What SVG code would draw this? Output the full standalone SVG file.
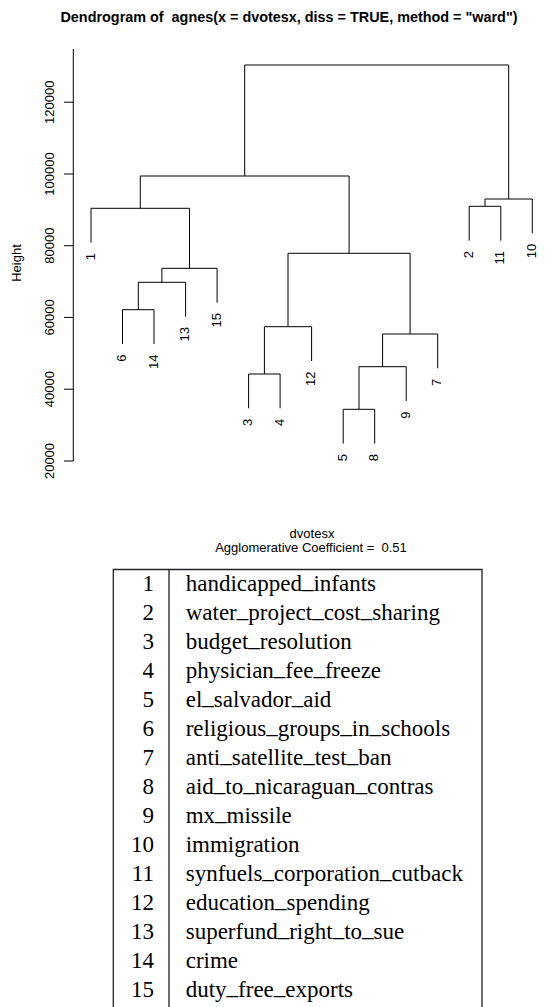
<svg xmlns="http://www.w3.org/2000/svg" width="560" height="1007" viewBox="0 0 560 1007">
<style>
.s{font-family:"Liberation Sans",Arial,sans-serif;fill:#000;white-space:pre}
.ax{font-size:13px}
.t{font-family:"Liberation Serif","Times New Roman",serif;font-size:23px;fill:#000}
.u{baseline-shift:3px}
.ln{fill:none;stroke:#000;stroke-width:1}
.lf{font-family:"Liberation Sans",Arial,sans-serif;font-size:13px;text-anchor:end}
</style>
<rect width="560" height="1007" fill="#fff"/>
<text class="s" x="289" y="21.7" font-size="14.4" font-weight="bold" text-anchor="middle" xml:space="preserve">Dendrogram of  agnes(x = dvotesx, diss = TRUE, method = "ward")</text>
<g id="axis">
<path class="ln" d="M73.3 49 V461 M64 461 H73.3 M64 389.2 H73.3 M64 317.4 H73.3 M64 245.7 H73.3 M64 174 H73.3 M64 102.2 H73.3"/>
<g class="s ax" text-anchor="middle">
<text transform="translate(53.5 461) rotate(-90)">20000</text>
<text transform="translate(53.5 389.2) rotate(-90)">40000</text>
<text transform="translate(53.5 317.4) rotate(-90)">60000</text>
<text transform="translate(53.5 245.7) rotate(-90)">80000</text>
<text transform="translate(53.5 174) rotate(-90)">100000</text>
<text transform="translate(53.5 102.2) rotate(-90)">120000</text>
<text transform="translate(20.5 263) rotate(-90)">Height</text>
</g>
</g>
<g id="connectors" class="ln">
<path d="M122.5 344 V309.7 H154 V344"/>
<path d="M138.3 309.7 V282.3 H185.6 V316.6"/>
<path d="M161.9 282.3 V268.3 H217.1 V302.6"/>
<path d="M91 242.6 V208.3 H189.5 V268.3"/>
<path d="M248.6 408.3 V374 H280.1 V408.3"/>
<path d="M264.4 374 V326.7 H311.6 V361"/>
<path d="M343.2 443.6 V409.3 H374.7 V443.6"/>
<path d="M359 409.3 V366.7 H406.2 V401"/>
<path d="M382.6 366.7 V334 H437.7 V368.3"/>
<path d="M288 326.7 V253.3 H410.1 V334"/>
<path d="M140.3 208.3 V176 H349.1 V253.3"/>
<path d="M469.2 240.6 V206.3 H500.8 V240.6"/>
<path d="M485 206.3 V199 H532.3 V233.3"/>
<path d="M244.7 176 V65 H508.7 V199"/>
</g>
<g id="leaf-1"><text class="lf" transform="translate(94.5 253.1) rotate(-90)">1</text></g>
<g id="leaf-6"><text class="lf" transform="translate(126 354.5) rotate(-90)">6</text></g>
<g id="leaf-14"><text class="lf" transform="translate(157.5 354.5) rotate(-90)">14</text></g>
<g id="leaf-13"><text class="lf" transform="translate(189.1 327.1) rotate(-90)">13</text></g>
<g id="leaf-15"><text class="lf" transform="translate(220.6 313.1) rotate(-90)">15</text></g>
<g id="leaf-3"><text class="lf" transform="translate(252.1 418.8) rotate(-90)">3</text></g>
<g id="leaf-4"><text class="lf" transform="translate(283.6 418.8) rotate(-90)">4</text></g>
<g id="leaf-12"><text class="lf" transform="translate(315.1 371.5) rotate(-90)">12</text></g>
<g id="leaf-5"><text class="lf" transform="translate(346.7 454.1) rotate(-90)">5</text></g>
<g id="leaf-8"><text class="lf" transform="translate(378.2 454.1) rotate(-90)">8</text></g>
<g id="leaf-9"><text class="lf" transform="translate(409.7 411.5) rotate(-90)">9</text></g>
<g id="leaf-7"><text class="lf" transform="translate(441.2 378.8) rotate(-90)">7</text></g>
<g id="leaf-2"><text class="lf" transform="translate(472.7 251.1) rotate(-90)">2</text></g>
<g id="leaf-11"><text class="lf" transform="translate(504.3 251.1) rotate(-90)">11</text></g>
<g id="leaf-10"><text class="lf" transform="translate(535.8 243.8) rotate(-90)">10</text></g>
<g id="subtitle" class="s ax" text-anchor="middle">
<text x="312" y="538.3">dvotesx</text>
<text x="311" y="552.3" xml:space="preserve">Agglomerative Coefficient =  0.51</text>
</g>
<g id="table">
<path d="M113.3 1007 V569.5 H482 V1007 M169 569.5 V1007" fill="none" stroke="#222" stroke-width="1.3"/>
<g class="t">
<g id="row-1"><text x="154" y="590.5" text-anchor="end">1</text><text x="185.7" y="590.5">handicapped<tspan class="u">_</tspan>infants</text></g>
<g id="row-2"><text x="154" y="619.5" text-anchor="end">2</text><text x="185.7" y="619.5">water<tspan class="u">_</tspan>project<tspan class="u">_</tspan>cost<tspan class="u">_</tspan>sharing</text></g>
<g id="row-3"><text x="154" y="648.5" text-anchor="end">3</text><text x="185.7" y="648.5">budget<tspan class="u">_</tspan>resolution</text></g>
<g id="row-4"><text x="154" y="677.5" text-anchor="end">4</text><text x="185.7" y="677.5">physician<tspan class="u">_</tspan>fee<tspan class="u">_</tspan>freeze</text></g>
<g id="row-5"><text x="154" y="706.5" text-anchor="end">5</text><text x="185.7" y="706.5">el<tspan class="u">_</tspan>salvador<tspan class="u">_</tspan>aid</text></g>
<g id="row-6"><text x="154" y="735.5" text-anchor="end">6</text><text x="185.7" y="735.5">religious<tspan class="u">_</tspan>groups<tspan class="u">_</tspan>in<tspan class="u">_</tspan>schools</text></g>
<g id="row-7"><text x="154" y="764.5" text-anchor="end">7</text><text x="185.7" y="764.5">anti<tspan class="u">_</tspan>satellite<tspan class="u">_</tspan>test<tspan class="u">_</tspan>ban</text></g>
<g id="row-8"><text x="154" y="793.5" text-anchor="end">8</text><text x="185.7" y="793.5">aid<tspan class="u">_</tspan>to<tspan class="u">_</tspan>nicaraguan<tspan class="u">_</tspan>contras</text></g>
<g id="row-9"><text x="154" y="822.5" text-anchor="end">9</text><text x="185.7" y="822.5">mx<tspan class="u">_</tspan>missile</text></g>
<g id="row-10"><text x="154" y="851.5" text-anchor="end">10</text><text x="185.7" y="851.5">immigration</text></g>
<g id="row-11"><text x="154" y="880.5" text-anchor="end">11</text><text x="185.7" y="880.5">synfuels<tspan class="u">_</tspan>corporation<tspan class="u">_</tspan>cutback</text></g>
<g id="row-12"><text x="154" y="909.5" text-anchor="end">12</text><text x="185.7" y="909.5">education<tspan class="u">_</tspan>spending</text></g>
<g id="row-13"><text x="154" y="938.5" text-anchor="end">13</text><text x="185.7" y="938.5">superfund<tspan class="u">_</tspan>right<tspan class="u">_</tspan>to<tspan class="u">_</tspan>sue</text></g>
<g id="row-14"><text x="154" y="967.5" text-anchor="end">14</text><text x="185.7" y="967.5">crime</text></g>
<g id="row-15"><text x="154" y="996.5" text-anchor="end">15</text><text x="185.7" y="996.5">duty<tspan class="u">_</tspan>free<tspan class="u">_</tspan>exports</text></g>
</g>
</g>
</svg>
